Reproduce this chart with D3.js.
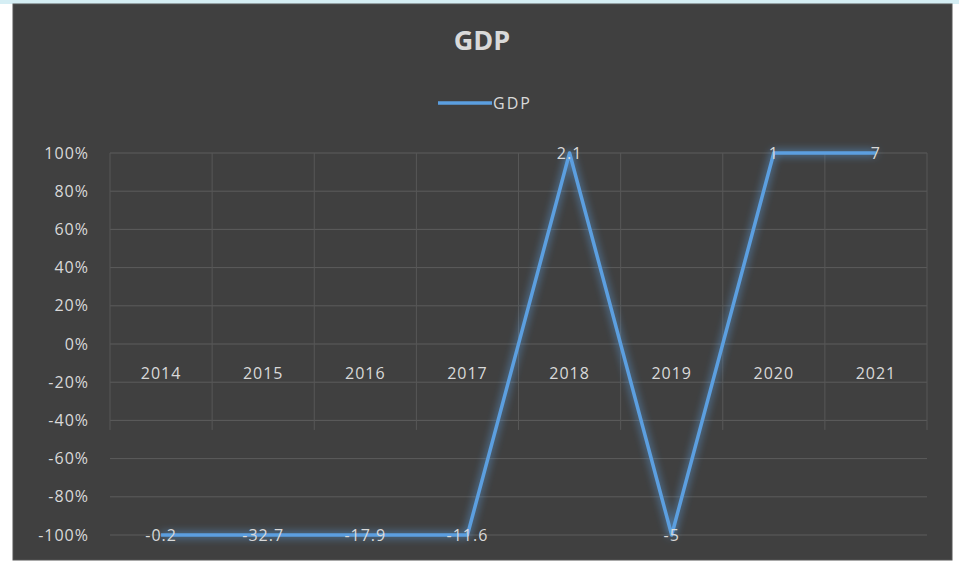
<!DOCTYPE html>
<html>
<head>
<meta charset="utf-8">
<script src="https://cdn.jsdelivr.net/npm/d3@7"></script>
<style>
  body { margin: 0; background: #ffffff; }
  svg { display: block; }
</style>
</head>
<body>
<div id="chart"></div>
<script>
// data
const years = ["2014", "2015", "2016", "2017", "2018", "2019", "2020", "2021"];
const gdpLabels = ["-0.2", "-32.7", "-17.9", "-11.6", "2.1", "-5", "1", "7"];
// where the line is actually drawn (axis fixed at -100%..100%, values clipped)
const gdpPlotted = [-1, -1, -1, -1, 1, -1, 1, 1];
const yTicks = [1, 0.8, 0.6, 0.4, 0.2, 0, -0.2, -0.4, -0.6, -0.8, -1];

const W = 959, H = 562;
const font = "'Open Sans', 'Noto Sans', sans-serif";
const textCol = "#d9d9d9";
const lineCol = "#5b9fe0";
const fs = 16, ls = 1;

const svg = d3.select("#chart").append("svg")
    .attr("width", W).attr("height", H);

// glow
const defs = svg.append("defs");
const f = defs.append("filter").attr("id", "glow")
    .attr("x", "-20%").attr("y", "-20%").attr("width", "140%").attr("height", "140%");
f.append("feGaussianBlur").attr("in", "SourceGraphic").attr("stdDeviation", 4).attr("result", "b");
f.append("feMerge").call(m => {
    m.append("feMergeNode").attr("in", "b");
    m.append("feMergeNode").attr("in", "SourceGraphic");
});

svg.append("rect").attr("x", 0).attr("y", 0).attr("width", W).attr("height", 4).attr("fill", "#d5eef4");
svg.append("rect").attr("x", 13).attr("y", 4).attr("width", 939).attr("height", 556)
    .attr("fill", "#404040").attr("stroke", "#555").attr("stroke-width", 1);

const x = d3.scaleBand().domain(years).range([110, 927]);
const y = d3.scaleLinear().domain([-1, 1]).range([535, 153]);

// horizontal gridlines
svg.append("g").selectAll("line").data(yTicks).enter().append("line")
    .attr("x1", 110).attr("x2", 927)
    .attr("y1", d => y(d)).attr("y2", d => y(d))
    .attr("stroke", "#5c5c5c").attr("stroke-width", 1);

// vertical gridlines (faint, they fade out in the original)
const vx = years.map(d => x(d)).concat([x.range()[1]]);
svg.append("g").selectAll("line").data(vx).enter().append("line")
    .attr("x1", d => d).attr("x2", d => d)
    .attr("y1", y(1)).attr("y2", y(-0.45))
    .attr("stroke", "#575757").attr("stroke-width", 1);

// y axis labels
svg.append("g").selectAll("text").data(yTicks).enter().append("text")
    .attr("x", 89).attr("y", d => y(d))
    .attr("dy", "0.35em").attr("text-anchor", "end")
    .attr("fill", textCol).attr("font-family", font).attr("font-size", fs).attr("letter-spacing", ls)
    .text(d => Math.round(d * 100) + "%");

// category labels just below the zero line
svg.append("g").selectAll("text").data(years).enter().append("text")
    .attr("x", d => x(d) + x.bandwidth() / 2).attr("y", y(0) + 35)
    .attr("text-anchor", "middle")
    .attr("fill", textCol).attr("font-family", font).attr("font-size", fs).attr("letter-spacing", ls)
    .text(d => d);

// line
const pts = years.map((d, i) => [x(d) + x.bandwidth() / 2, y(gdpPlotted[i])]);
svg.append("path")
    .datum(pts)
    .attr("d", d3.line())
    .attr("fill", "none")
    .attr("stroke", lineCol).attr("stroke-width", 3.5)
    .attr("stroke-linejoin", "round")
    .attr("filter", "url(#glow)");

// data labels
svg.append("g").selectAll("text").data(gdpLabels).enter().append("text")
    .attr("x", (d, i) => pts[i][0]).attr("y", (d, i) => pts[i][1])
    .attr("dy", "0.4em").attr("text-anchor", "middle")
    .attr("fill", textCol).attr("font-family", font).attr("font-size", fs).attr("letter-spacing", ls)
    .text(d => d);

// title
svg.append("text")
    .attr("x", 482).attr("y", 50).attr("text-anchor", "middle")
    .attr("fill", textCol).attr("font-family", font).attr("font-size", 27).attr("font-weight", "bold")
    .text("GDP");

// legend
svg.append("line").attr("x1", 438).attr("x2", 492).attr("y1", 103).attr("y2", 103)
    .attr("stroke", lineCol).attr("stroke-width", 3.5);
svg.append("text").attr("x", 493).attr("y", 103).attr("dy", "0.35em")
    .attr("fill", textCol).attr("font-family", font).attr("font-size", 16)
    .attr("letter-spacing", 2)
    .text("GDP");
</script>
</body>
</html>
